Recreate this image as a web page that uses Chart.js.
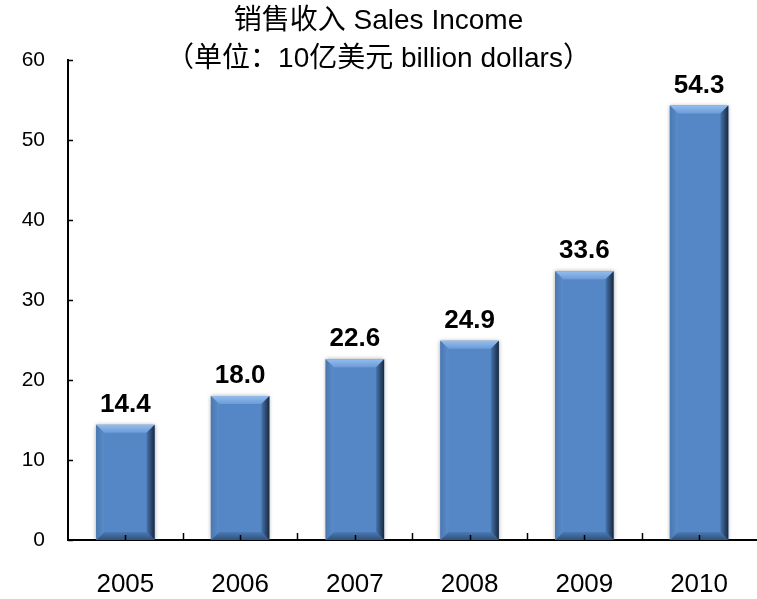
<!DOCTYPE html>
<html>
<head>
<meta charset="utf-8">
<script src="https://cdn.jsdelivr.net/npm/chart.js@4/dist/chart.umd.min.js"></script>
<style>
  html, body { margin: 0; padding: 0; background: #fff; }
  #box { width: 757px; height: 599px; }
</style>
</head>
<body>
<div id="box"><canvas id="salesChart"></canvas></div>
<script>
// data
const years = ['2005', '2006', '2007', '2008', '2009', '2010'];
const income = [14.4, 18.0, 22.6, 24.9, 33.6, 54.3];
const yTicks = [0, 10, 20, 30, 40, 50, 60];
const titleLines = ['销售收入 Sales Income', '（单位：10亿美元 billion dollars）'];

const FONT = "'Liberation Sans', Arial, 'Noto Sans CJK SC', sans-serif";

// bevel look of the bars + value labels + inside tick marks
const bevelPlugin = {
  id: 'bevel',
  beforeDatasetsDraw(chart) {
    const ctx = chart.ctx;
    ctx.save();
    ctx.shadowColor = 'rgba(0,0,0,0.35)';
    ctx.shadowBlur = 4;
  },
  afterDatasetsDraw(chart) {
    const ctx = chart.ctx;
    ctx.restore();
    const meta = chart.getDatasetMeta(0);
    meta.data.forEach((bar, i) => {
      const { x, y, base, width } = bar.getProps(['x', 'y', 'base', 'width'], true);
      const l = x - width / 2, r = x + width / 2;
      const b = 8;
      ctx.save();
      // top
      let g = ctx.createLinearGradient(0, y, 0, y + b);
      g.addColorStop(0, '#93BDEE');
      g.addColorStop(1, '#6C9BD7');
      ctx.fillStyle = g;
      ctx.beginPath();
      ctx.moveTo(l, y); ctx.lineTo(r, y); ctx.lineTo(r - b, y + b); ctx.lineTo(l + b, y + b);
      ctx.closePath(); ctx.fill();
      // bottom
      g = ctx.createLinearGradient(0, base - b, 0, base);
      g.addColorStop(0, '#4B7AB4');
      g.addColorStop(1, '#30527A');
      ctx.fillStyle = g;
      ctx.beginPath();
      ctx.moveTo(l, base); ctx.lineTo(r, base); ctx.lineTo(r - b, base - b); ctx.lineTo(l + b, base - b);
      ctx.closePath(); ctx.fill();
      // left
      g = ctx.createLinearGradient(l, 0, l + b, 0);
      g.addColorStop(0, '#4A78B0');
      g.addColorStop(1, '#5A8CCB');
      ctx.fillStyle = g;
      ctx.beginPath();
      ctx.moveTo(l, y); ctx.lineTo(l + b, y + b); ctx.lineTo(l + b, base - b); ctx.lineTo(l, base);
      ctx.closePath(); ctx.fill();
      // right
      g = ctx.createLinearGradient(r - b, 0, r, 0);
      g.addColorStop(0, '#4674AC');
      g.addColorStop(1, '#18283E');
      ctx.fillStyle = g;
      ctx.beginPath();
      ctx.moveTo(r, y); ctx.lineTo(r - b, y + b); ctx.lineTo(r - b, base - b); ctx.lineTo(r, base);
      ctx.closePath(); ctx.fill();
      // value label
      ctx.fillStyle = '#000';
      ctx.font = 'bold 26px ' + FONT;
      ctx.textAlign = 'center';
      ctx.textBaseline = 'alphabetic';
      ctx.fillText(income[i].toFixed(1), x, y - 13);
      ctx.restore();
    });

    // tick marks pointing into the plot
    const xs = chart.scales.x, ys = chart.scales.y;
    ctx.save();
    ctx.strokeStyle = '#000';
    ctx.lineWidth = 1.5;
    ctx.beginPath();
    yTicks.forEach(v => {
      const py = Math.round(ys.getPixelForValue(v)) + 0.5;
      ctx.moveTo(xs.left, py); ctx.lineTo(xs.left + 5, py);
    });
    const step = (xs.right - xs.left) / years.length;
    for (let k = 1; k < years.length; k++) {
      const px = Math.round(xs.getPixelForValue(k) - step / 2) + 0.5;
      ctx.moveTo(px, ys.bottom); ctx.lineTo(px, ys.bottom - 7);
    }
    years.forEach((yr, k) => {
      const px = Math.round(xs.getPixelForValue(k)) + 0.5;
      ctx.moveTo(px, ys.bottom); ctx.lineTo(px, ys.bottom - 5);
    });
    ctx.stroke();
    ctx.restore();
  }
};

const ctx = document.getElementById('salesChart').getContext('2d');

new Chart(ctx, {
  type: 'bar',
  data: {
    labels: years,
    datasets: [{
      data: income,
      backgroundColor: '#5587C7',
      borderWidth: 0,
      categoryPercentage: 1,
      barPercentage: 0.51
    }]
  },
  plugins: [bevelPlugin],
  options: {
    responsive: true,
    maintainAspectRatio: false,
    animation: false,
    layout: { padding: { left: 0, right: 0, top: 0, bottom: 2 } },
    plugins: {
      legend: { display: false },
      tooltip: { enabled: false },
      title: {
        display: true,
        text: titleLines,
        color: '#000',
        font: { family: FONT, size: 28, weight: 'normal', lineHeight: 1.357 },
        padding: { top: 2, bottom: -18 }
      }
    },
    scales: {
      x: {
        grid: { display: false, drawTicks: false },
        border: { display: true, color: '#000', width: 2 },
        ticks: { color: '#000', padding: 29, font: { family: FONT, size: 26 } },
        afterFit(scale) { scale.height = 57; }
      },
      y: {
        min: 0,
        max: 60,
        grid: { display: false, drawTicks: false },
        border: { display: true, color: '#000', width: 2 },
        ticks: {
          stepSize: 10,
          color: '#000',
          padding: 23,
          font: { family: FONT, size: 21 }
        },
        afterFit(scale) { scale.width = 68; }
      }
    }
  }
});
</script>
</body>
</html>
